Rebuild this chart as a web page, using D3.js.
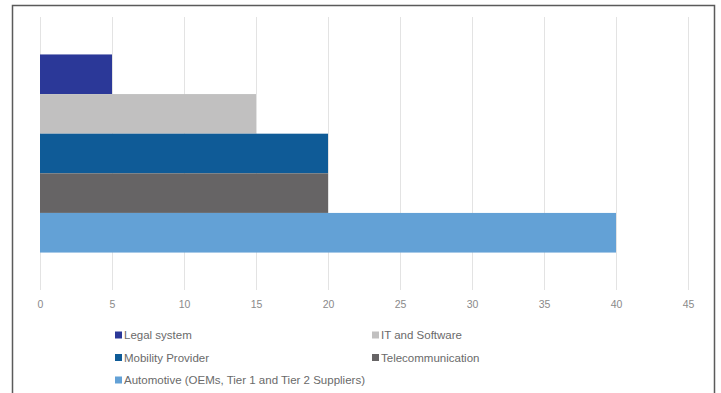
<!DOCTYPE html>
<html>
<head>
<meta charset="utf-8">
<script src="https://cdn.jsdelivr.net/npm/d3@7"></script>
<style>
  html, body { margin: 0; padding: 0; background: #fff; }
  svg { display: block; }
</style>
</head>
<body>
<script>
const series = ["Legal system", "IT and Software", "Mobility Provider", "Telecommunication", "Automotive (OEMs, Tier 1 and Tier 2 Suppliers)"];
const values = [5, 15, 20, 20, 40];
const colors = ["#2b3898", "#c1c0c0", "#0f5b97", "#666465", "#63a1d6"];
const xTicks = [0, 5, 10, 15, 20, 25, 30, 35, 40, 45];
const legendOrder = [
  ["Legal system", "IT and Software"],
  ["Mobility Provider", "Telecommunication"],
  ["Automotive (OEMs, Tier 1 and Tier 2 Suppliers)"]
];

const W = 721, H = 393;
const svg = d3.select("body").append("svg").attr("width", W).attr("height", H);

// outer frame
svg.append("path")
  .attr("d", `M12.5,${H + 2} V5.5 H714.5 V${H + 2}`)
  .attr("fill", "none").attr("stroke", "#5a5a5a").attr("stroke-width", 1.5);

const plotTop = 17, plotBottom = 290;
const x = d3.scaleLinear().domain([0, 45]).range([40, 688]);
const outer = d3.scaleBand().domain(["group"]).range([plotTop, plotBottom]).paddingOuter(0.189).paddingInner(0);
const y = d3.scaleBand().domain(series).range([outer("group"), outer("group") + outer.bandwidth()]);

// gridlines
svg.append("g").selectAll("line").data(xTicks).join("line")
  .attr("x1", d => Math.round(x(d)) + 0.5).attr("x2", d => Math.round(x(d)) + 0.5)
  .attr("y1", plotTop).attr("y2", plotBottom)
  .attr("stroke", "#e3e3e3").attr("stroke-width", 1);

// bars
svg.append("g").selectAll("rect").data(series).join("rect")
  .attr("x", x(0))
  .attr("y", d => y(d))
  .attr("width", (d, i) => x(values[i]) - x(0))
  .attr("height", y.bandwidth())
  .attr("fill", (d, i) => colors[i]);

// axis labels
const axis = d3.axisBottom(x).tickValues(xTicks).tickSize(0).tickPadding(0);
const ag = svg.append("g").attr("transform", `translate(0,${plotBottom + 11})`).call(axis);
ag.select(".domain").remove();
ag.selectAll("text")
  .attr("font-family", "Liberation Sans, Arial, sans-serif")
  .attr("font-size", 10.5).attr("fill", "#8a8a8a");

// legend
const lg = svg.append("g").attr("font-family", "Liberation Sans, Arial, sans-serif")
  .attr("font-size", 11.5).attr("fill", "#6a6a6a");
const colX = [115, 372];
const rowY = [335, 357.5, 380];
legendOrder.forEach((row, r) => {
  row.forEach((name, c) => {
    const i = series.indexOf(name);
    const g = lg.append("g").attr("transform", `translate(${colX[c]},${rowY[r]})`);
    g.append("rect").attr("x", 0).attr("y", -3.5).attr("width", 7).attr("height", 7).attr("fill", colors[i]);
    g.append("text").attr("x", 9).attr("y", 0).attr("dy", "0.35em").text(name);
  });
});
</script>
</body>
</html>
